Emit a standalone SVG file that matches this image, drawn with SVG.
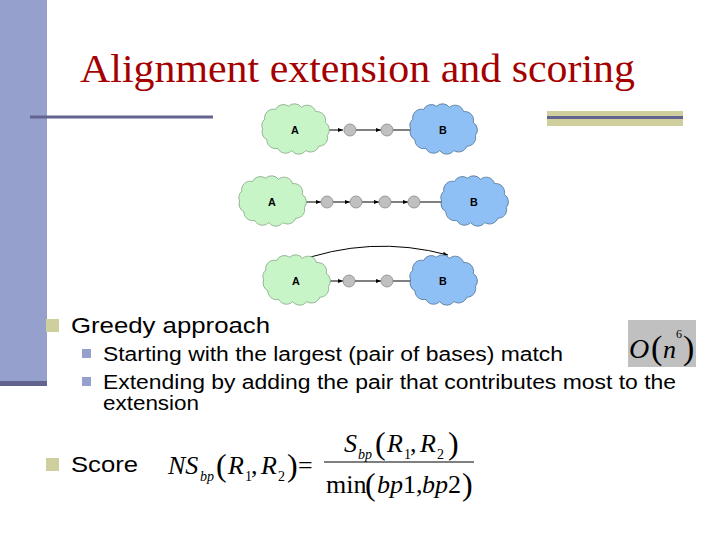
<svg xmlns="http://www.w3.org/2000/svg" xmlns:xlink="http://www.w3.org/1999/xlink" width="720" height="540" viewBox="0 0 720 540">
<style>
.t{font-family:"Liberation Sans",Arial,sans-serif;fill:#000}
.m{font-family:"Liberation Serif","Times New Roman",serif;font-style:italic;fill:#000}
.r{font-family:"Liberation Serif","Times New Roman",serif;fill:#000}
.lbl{font-family:"Liberation Sans",Arial,sans-serif;font-weight:bold;font-size:10px;text-anchor:middle}
.dot{fill:#c0c0c0;stroke:#888;stroke-width:0.8}
.ln{stroke:#000;stroke-width:1;fill:none}
</style>
<defs>
<path id="cl" d="M-28,-10 a8,8 0 0 1 10,-9 a8,8 0 0 1 12,-3 a8,8 0 0 1 12,1 a8,8 0 0 1 13,4 a8,8 0 0 1 9,10 a8,8 0 0 1 2,12 a8,8 0 0 1 -8,10 a8,8 0 0 1 -12,4 a8,8 0 0 1 -13,0 a8,8 0 0 1 -13,-2 a8,8 0 0 1 -10,-8 a8,8 0 0 1 -4,-10 a8,8 0 0 1 2,-9z"/>
<marker id="ar" markerWidth="5" markerHeight="4" refX="5" refY="2" orient="auto"><path d="M0,0L5,2L0,4z" fill="#000"/></marker>
</defs>
<rect width="720" height="540" fill="#fff"/>
<rect x="0" y="0" width="47" height="382" fill="#96a0cc"/>
<rect x="0" y="381" width="47" height="5" fill="#63638f"/>
<rect x="30" y="115.5" width="183" height="3" fill="#63638f"/>
<rect x="547" y="111" width="136" height="15" fill="#cfcf9e"/>
<rect x="547" y="116" width="136" height="3" fill="#63638f"/>
<text x="80" y="82" class="r" font-size="40" style="fill:#a50000" textLength="555" lengthAdjust="spacingAndGlyphs">Alignment extension and scoring</text>
<g id="connectors">
<g class="ln" marker-end="url(#ar)">
<line x1="324" y1="130" x2="343" y2="130"/><line x1="356" y1="130" x2="381" y2="130"/><line x1="393" y1="130" x2="416" y2="130"/>
<line x1="301" y1="202" x2="321" y2="202"/><line x1="333" y1="202" x2="350" y2="202"/><line x1="362" y1="202" x2="379" y2="202"/><line x1="391" y1="202" x2="408" y2="202"/><line x1="420" y1="202" x2="447" y2="202"/>
<line x1="325" y1="281" x2="343" y2="281"/><line x1="355" y1="281" x2="381" y2="281"/><line x1="393" y1="281" x2="416" y2="281"/>
<path d="M293,263 Q370,234 448,255"/>
</g>
</g>
<g id="row1">
<g id="A1" transform="translate(295,130) scale(1.08)"><use xlink:href="#cl" fill="#c8f5c8" stroke="#8a8" stroke-width="0.8"/><text class="lbl" y="4">A</text></g>
<circle class="dot" cx="350" cy="130" r="6"/><circle class="dot" cx="387" cy="130" r="6"/>
<g id="B1" transform="translate(443,130) scale(1.08)"><use xlink:href="#cl" fill="#8fc0f5" stroke="#579" stroke-width="0.8"/><text class="lbl" y="4">B</text></g>
</g>
<g id="row2">
<g id="A2" transform="translate(272,202) scale(1.08)"><use xlink:href="#cl" fill="#c8f5c8" stroke="#8a8" stroke-width="0.8"/><text class="lbl" y="4">A</text></g>
<circle class="dot" cx="327" cy="202" r="6"/><circle class="dot" cx="356" cy="202" r="6"/><circle class="dot" cx="385" cy="202" r="6"/><circle class="dot" cx="414" cy="202" r="6"/>
<g id="B2" transform="translate(474,202) scale(1.08)"><use xlink:href="#cl" fill="#8fc0f5" stroke="#579" stroke-width="0.8"/><text class="lbl" y="4">B</text></g>
</g>
<g id="row3">
<g id="A3" transform="translate(296,281) scale(1.08)"><use xlink:href="#cl" fill="#c8f5c8" stroke="#8a8" stroke-width="0.8"/><text class="lbl" y="4">A</text></g>
<circle class="dot" cx="349" cy="281" r="6"/><circle class="dot" cx="387" cy="281" r="6"/>
<g id="B3" transform="translate(443,281) scale(1.08)"><use xlink:href="#cl" fill="#8fc0f5" stroke="#579" stroke-width="0.8"/><text class="lbl" y="4">B</text></g>
</g>
<rect x="46" y="319" width="13" height="13" fill="#cfcf9e"/>
<text x="71" y="333" class="t" font-size="22" textLength="199" lengthAdjust="spacingAndGlyphs">Greedy approach</text>
<rect x="82" y="349" width="9" height="9" fill="#96a0cc"/>
<text x="103" y="361" class="t" font-size="20" textLength="460" lengthAdjust="spacingAndGlyphs">Starting with the largest (pair of bases) match</text>
<rect x="82" y="377" width="9" height="9" fill="#96a0cc"/>
<text x="103" y="389" class="t" font-size="20" textLength="573" lengthAdjust="spacingAndGlyphs">Extending by adding the pair that contributes most to the</text>
<text x="103" y="410" class="t" font-size="20" textLength="96" lengthAdjust="spacingAndGlyphs">extension</text>
<rect x="46" y="458" width="13" height="13" fill="#cfcf9e"/>
<text x="71" y="472" class="t" font-size="22" textLength="67" lengthAdjust="spacingAndGlyphs">Score</text>
<rect x="628" y="320" width="68" height="47" fill="#c0c0c0"/>
<text x="629" y="358" class="m" font-size="28">O</text>
<text x="651" y="359" class="r" font-size="34">(</text>
<text x="663" y="358" class="m" font-size="26">n</text>
<text x="676" y="338" class="r" font-size="12">6</text>
<text x="683" y="359" class="r" font-size="34">)</text>
<text x="168" y="474" class="m" font-size="26">NS</text>
<text x="200" y="481" class="m" font-size="14">bp</text>
<text x="216" y="476" class="r" font-size="32">(</text><text x="228" y="474" class="m" font-size="26">R</text><text x="245" y="481" class="r" font-size="14">1</text><text x="251" y="474" class="r" font-size="26">,</text><text x="261" y="474" class="m" font-size="26">R</text><text x="278" y="481" class="r" font-size="14">2</text><text x="287" y="476" class="r" font-size="32">)</text>
<text x="298" y="474" class="r" font-size="26">=</text>
<text x="344" y="452" class="m" font-size="26">S</text><text x="358" y="459" class="m" font-size="14">bp</text>
<text x="375" y="454" class="r" font-size="32">(</text><text x="387" y="452" class="m" font-size="26">R</text><text x="404" y="459" class="r" font-size="14">1</text><text x="410" y="452" class="r" font-size="26">,</text><text x="420" y="452" class="m" font-size="26">R</text><text x="437" y="459" class="r" font-size="14">2</text><text x="448" y="454" class="r" font-size="32">)</text>
<line x1="324" y1="462" x2="474" y2="462" stroke="#000" stroke-width="1.2"/>
<text x="326" y="493" class="r" font-size="26">min</text>
<text x="365" y="495" class="r" font-size="32">(</text>
<text x="377" y="493" class="m" font-size="26">bp</text><text x="403" y="493" class="r" font-size="26">1,</text><text x="422" y="493" class="m" font-size="26">bp</text><text x="448" y="493" class="r" font-size="26">2</text>
<text x="462" y="495" class="r" font-size="32">)</text>
</svg>
